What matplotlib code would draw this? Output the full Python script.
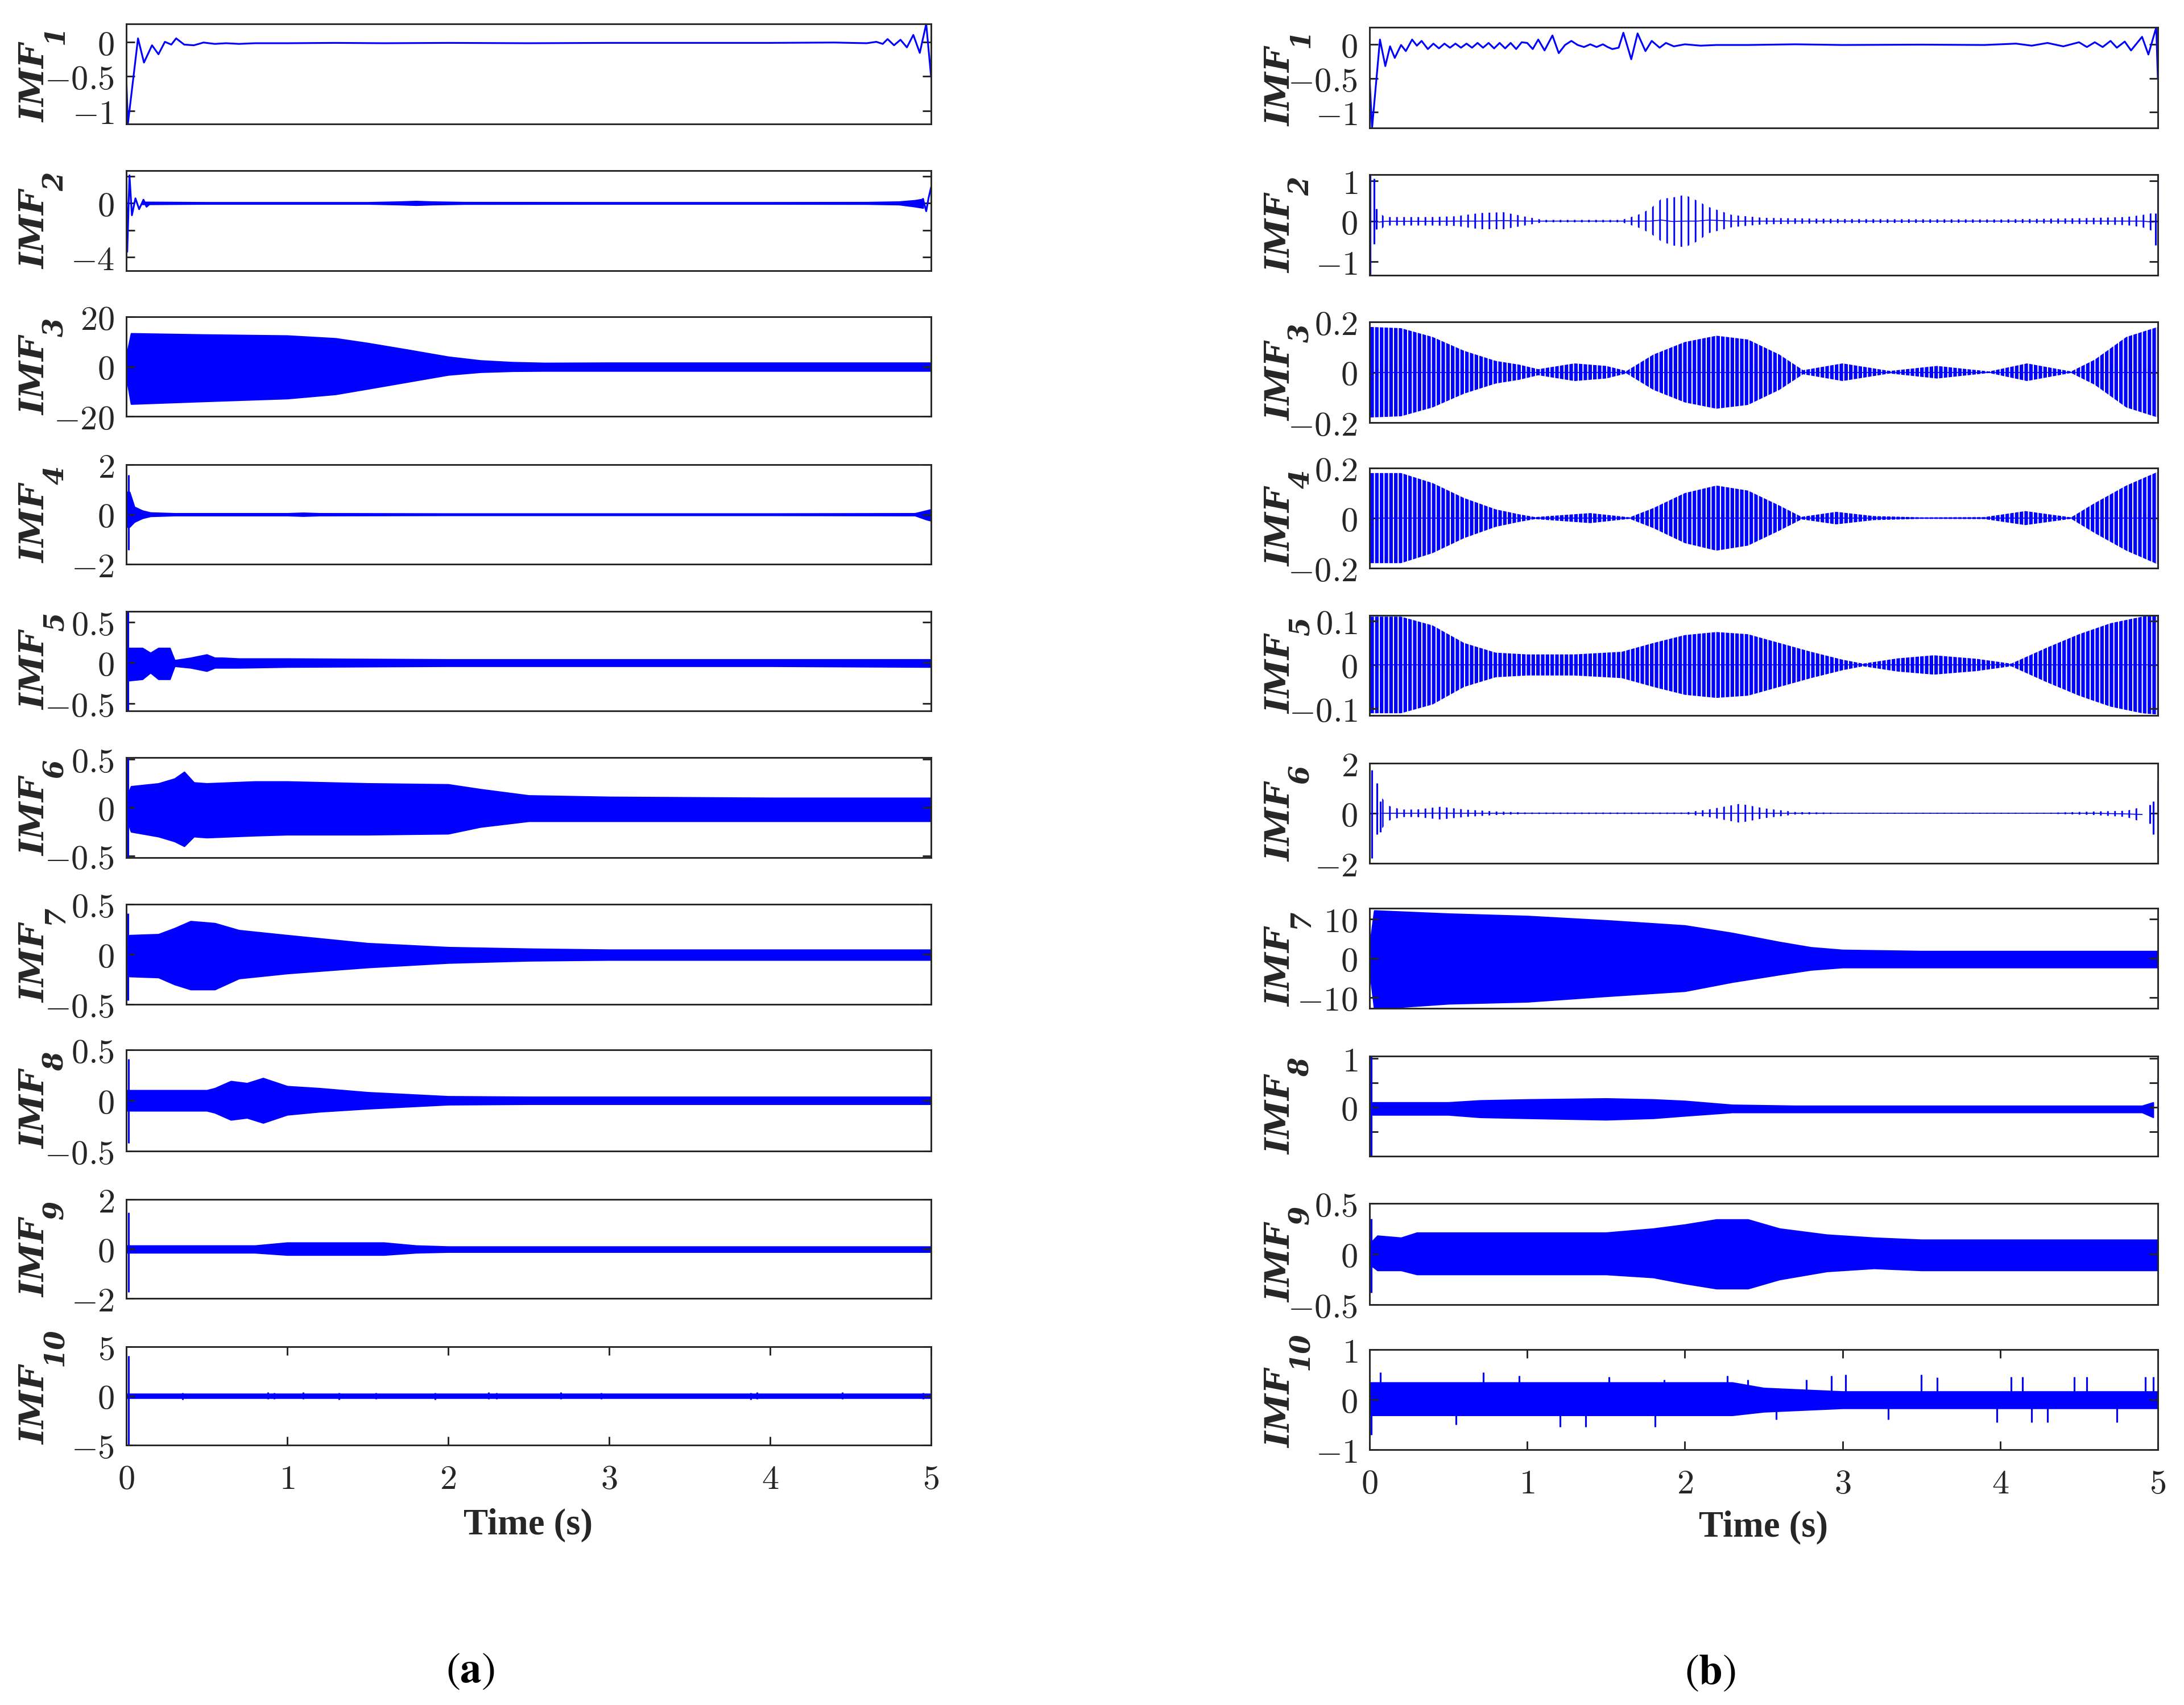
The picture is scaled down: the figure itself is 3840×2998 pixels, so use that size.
import numpy as np
import matplotlib
matplotlib.use("Agg")
import matplotlib.pyplot as plt

BLUE = "#0000ff"
INK = "#262626"

# ---------------- (a) left column ----------------
a1_t = [0.0, 0.01, 0.073, 0.11, 0.16, 0.2, 0.24, 0.28, 0.31, 0.36, 0.42, 0.48,
        0.55, 0.62, 0.7, 0.8, 1.0, 1.3, 1.6, 2.0, 2.5, 3.0, 3.5, 4.0,
        4.4, 4.6, 4.66, 4.7, 4.73, 4.77, 4.81, 4.85, 4.89, 4.93, 4.97, 5.0]
a1_y = [-0.5, -1.19, 0.05, -0.3, -0.05, -0.18, 0.0, -0.04, 0.05, -0.04, -0.05, -0.01,
        -0.03, -0.02, -0.03, -0.02, -0.02, -0.015, -0.02, -0.015, -0.02, -0.015, -0.015, -0.015,
        -0.01, -0.02, 0.0, -0.03, 0.04, -0.05, 0.03, -0.08, 0.1, -0.16, 0.26, -0.5]

a2_t = [0.1, 0.5, 1.5, 1.7, 1.8, 1.9, 2.1, 3.0, 4.0, 4.6, 4.8, 4.9, 4.95]
a2_hi = [0.08, 0.05, 0.05, 0.1, 0.14, 0.1, 0.06, 0.05, 0.05, 0.06, 0.1, 0.2, 0.3]
a2_lo = [-0.08, -0.05, -0.05, -0.1, -0.14, -0.1, -0.06, -0.05, -0.05, -0.06, -0.1, -0.25, -0.35]
a2_head_t = [0.0, 0.006, 0.02, 0.035, 0.057, 0.08, 0.107, 0.126, 0.15]
a2_head_y = [2.4, -3.6, 2.05, -0.9, 0.35, -0.45, 0.25, -0.27, 0.0]
a2_tail_t = [4.95, 4.97, 4.985, 5.0]
a2_tail_y = [0.3, -0.6, 0.4, 1.15]

a3_t = [0.0, 0.03, 0.5, 1.0, 1.3, 1.5, 1.75, 2.0, 2.2, 2.4, 2.6, 3.0, 4.0, 5.0]
a3_hi = [4.0, 13.3, 12.8, 12.4, 11.3, 9.4, 6.7, 3.9, 2.4, 1.7, 1.4, 1.5, 1.5, 1.5]
a3_lo = [-4.0, -15.0, -13.9, -12.8, -11.1, -8.9, -6.1, -3.3, -2.2, -1.8, -1.7, -1.7, -1.7, -1.7]

a4_t = [0.0, 0.02, 0.05, 0.1, 0.15, 0.3, 1.0, 1.1, 1.2, 2.0, 3.0, 4.0, 4.9, 4.97, 5.0]
a4_hi = [0.9, 0.9, 0.3, 0.15, 0.07, 0.04, 0.04, 0.06, 0.04, 0.03, 0.03, 0.03, 0.04, 0.15, 0.2]
a4_lo = [-0.5, -0.5, -0.3, -0.15, -0.07, -0.04, -0.04, -0.06, -0.04, -0.03, -0.03, -0.03, -0.04, -0.2, -0.25]
a4_spk = ([0.015], [-1.43], [1.6])

a5_t = [0.0, 0.1, 0.15, 0.2, 0.27, 0.3, 0.4, 0.5, 0.55, 0.6, 0.7, 1.0, 2.0, 3.0, 4.0, 5.0]
a5_hi = [0.18, 0.18, 0.12, 0.18, 0.18, 0.03, 0.06, 0.1, 0.06, 0.06, 0.05, 0.05, 0.04, 0.04, 0.04, 0.04]
a5_lo = [-0.22, -0.2, -0.12, -0.2, -0.2, -0.04, -0.06, -0.1, -0.06, -0.06, -0.06, -0.05, -0.04, -0.04, -0.04, -0.05]
a5_spk = ([0.01], [-0.59], [0.63])

a6_t = [0.0, 0.03, 0.2, 0.3, 0.36, 0.42, 0.5, 0.8, 1.0, 1.5, 2.0, 2.2, 2.5, 3.0, 4.0, 5.0]
a6_hi = [0.1, 0.22, 0.25, 0.3, 0.37, 0.26, 0.25, 0.27, 0.27, 0.25, 0.24, 0.19, 0.125, 0.11, 0.1, 0.1]
a6_lo = [-0.1, -0.25, -0.3, -0.35, -0.4, -0.3, -0.31, -0.29, -0.28, -0.28, -0.27, -0.2, -0.14, -0.14, -0.14, -0.14]
a6_spk = ([0.01], [-0.52], [0.52])

a7_t = [0.0, 0.02, 0.2, 0.3, 0.4, 0.55, 0.7, 1.0, 1.5, 2.0, 2.5, 3.0, 5.0]
a7_hi = [0.0, 0.19, 0.2, 0.26, 0.33, 0.31, 0.24, 0.19, 0.11, 0.07, 0.055, 0.045, 0.045]
a7_lo = [0.0, -0.22, -0.23, -0.3, -0.35, -0.35, -0.24, -0.19, -0.13, -0.085, -0.063, -0.055, -0.055]
a7_spk = ([0.01], [-0.46], [0.41])

a8_t = [0.0, 0.5, 0.55, 0.65, 0.75, 0.85, 1.0, 1.2, 1.5, 2.0, 2.5, 5.0]
a8_hi = [0.1, 0.1, 0.12, 0.19, 0.17, 0.22, 0.14, 0.12, 0.08, 0.04, 0.035, 0.035]
a8_lo = [-0.1, -0.1, -0.12, -0.19, -0.17, -0.22, -0.14, -0.11, -0.08, -0.04, -0.035, -0.035]
a8_spk = ([0.015], [-0.42], [0.41])

a9_t = [0.0, 0.8, 1.0, 1.6, 1.8, 2.0, 5.0]
a9_hi = [0.13, 0.13, 0.25, 0.25, 0.13, 0.09, 0.09]
a9_lo = [-0.15, -0.15, -0.24, -0.24, -0.15, -0.12, -0.12]
a9_spk = ([0.015], [-1.74], [1.47])

a10_t = [0.0, 5.0]
a10_hi = [0.2, 0.2]
a10_lo = [-0.2, -0.2]
a10_spk_t = [0.015, 0.35, 0.88, 0.92, 1.1, 1.32, 1.55, 1.92, 2.25, 2.3, 2.7, 2.95, 3.88, 3.92, 4.45, 4.95]
a10_spk_lo = [-4.96, -0.35, -0.3, -0.3, -0.3, -0.35, -0.3, -0.35, -0.3, -0.3, -0.3, -0.3, -0.35, -0.3, -0.3, -0.3]
a10_spk_hi = [4.1, 0.3, 0.35, 0.3, 0.4, 0.3, 0.3, 0.3, 0.35, 0.3, 0.35, 0.3, 0.3, 0.35, 0.35, 0.3]

# ---------------- (b) right column ----------------
b1_t = [0.0, 0.016, 0.066, 0.1, 0.13, 0.16, 0.2, 0.23, 0.27, 0.3, 0.33, 0.37,
        0.405, 0.44, 0.475, 0.51, 0.545, 0.58, 0.615, 0.65, 0.685, 0.72, 0.755, 0.79,
        0.825, 0.86, 0.895, 0.93, 0.965, 1.0, 1.035, 1.07, 1.11, 1.16, 1.2, 1.24,
        1.28, 1.32, 1.36, 1.4, 1.44, 1.48, 1.51, 1.54, 1.58, 1.61, 1.66, 1.70,
        1.75, 1.79, 1.84, 1.88, 1.93, 2.0, 2.1, 2.2, 2.4, 2.7, 3.0, 3.5,
        3.9, 4.1, 4.2, 4.3, 4.4, 4.5, 4.55, 4.6, 4.65, 4.7, 4.74, 4.79,
        4.83, 4.9, 4.94, 4.99, 5.0]
b1_y = [-0.5, -1.23, 0.07, -0.32, -0.03, -0.2, -0.01, -0.1, 0.07, -0.02, 0.05, -0.07,
        0.01, -0.06, 0.01, -0.05, 0.01, -0.05, 0.01, -0.05, 0.02, -0.05, 0.02, -0.06,
        0.02, -0.06, 0.02, -0.07, 0.03, 0.02, -0.07, 0.07, -0.09, 0.13, -0.13, -0.01,
        0.05, -0.01, -0.04, 0.0, -0.04, 0.0, -0.04, -0.07, -0.05, 0.17, -0.22, 0.16,
        -0.1, 0.05, -0.05, 0.02, -0.03, 0.0, -0.02, -0.01, -0.01, 0.0, -0.01, -0.005,
        -0.01, 0.01, -0.02, 0.02, -0.03, 0.03, -0.04, 0.03, -0.04, 0.05, -0.05, 0.04,
        -0.09, 0.11, -0.15, 0.25, -0.5]

b2_t = [0.06, 0.1, 0.4, 0.55, 0.7, 0.85, 1.0, 1.1, 1.6, 1.7, 1.78, 1.85,
        1.92, 2.0, 2.08, 2.15, 2.3, 2.5, 3.0, 4.0, 4.5, 4.8, 4.9, 4.97]
b2_hi = [0.2, 0.1, 0.1, 0.12, 0.2, 0.22, 0.1, 0.03, 0.03, 0.15, 0.3, 0.55,
         0.58, 0.65, 0.5, 0.35, 0.15, 0.08, 0.05, 0.04, 0.07, 0.1, 0.15, 0.2]
b2_lo = [-0.25, -0.11, -0.11, -0.12, -0.2, -0.2, -0.1, -0.03, -0.03, -0.15, -0.3, -0.5,
         -0.6, -0.65, -0.5, -0.3, -0.15, -0.08, -0.05, -0.04, -0.07, -0.1, -0.15, -0.25]
b2_spk = ([0.004, 0.03, 0.045, 4.985, 5.0], [-1.34, -0.57, -0.2, -0.6, -0.6], [1.15, 1.05, 0.3, 0.2, 1.15])

b3_t = [0.0, 0.2, 0.4, 0.6, 0.8, 0.95, 1.07, 1.3, 1.5, 1.63, 1.8, 2.0, 2.2,
        2.4, 2.6, 2.75, 3.0, 3.3, 3.6, 3.93, 4.17, 4.45, 4.6, 4.8, 5.0]
b3_amp = [0.18, 0.175, 0.14, 0.085, 0.045, 0.03, 0.012, 0.035, 0.025, 0.005, 0.07, 0.12, 0.145,
          0.13, 0.07, 0.008, 0.035, 0.005, 0.025, 0.003, 0.035, 0.003, 0.05, 0.14, 0.18]

b4_t = [0.0, 0.2, 0.4, 0.6, 0.8, 0.95, 1.05, 1.4, 1.65, 1.8, 2.0, 2.2,
        2.4, 2.6, 2.74, 2.96, 3.2, 3.5, 3.9, 4.16, 4.45, 4.6, 4.8, 5.0]
b4_amp = [0.18, 0.18, 0.14, 0.08, 0.035, 0.015, 0.004, 0.02, 0.003, 0.04, 0.1, 0.13,
          0.11, 0.05, 0.005, 0.025, 0.008, 0.003, 0.004, 0.028, 0.003, 0.06, 0.13, 0.185]

b5_t = [0.0, 0.2, 0.4, 0.6, 0.8, 1.0, 1.3, 1.6, 1.8, 2.0, 2.2, 2.4, 2.6,
        2.8, 3.0, 3.13, 3.35, 3.58, 3.85, 4.07, 4.3, 4.5, 4.7, 4.9, 5.0]
b5_amp = [0.11, 0.11, 0.09, 0.05, 0.028, 0.024, 0.024, 0.03, 0.05, 0.068, 0.075, 0.07, 0.05,
          0.03, 0.012, 0.003, 0.015, 0.022, 0.014, 0.003, 0.04, 0.07, 0.095, 0.11, 0.113]

b6_t = [0.08, 0.12, 0.2, 0.3, 0.45, 0.6, 0.8, 1.0, 2.0, 2.15, 2.35, 2.5, 2.7, 3.0, 4.3, 4.6, 4.8, 4.9]
b6_hi = [0.6, 0.3, 0.15, 0.15, 0.26, 0.15, 0.07, 0.03, 0.03, 0.15, 0.38, 0.2, 0.05, 0.02, 0.02, 0.07, 0.1, 0.25]
b6_lo = [-0.6, -0.3, -0.15, -0.15, -0.25, -0.15, -0.07, -0.03, -0.03, -0.15, -0.38, -0.2, -0.05, -0.02, -0.02, -0.07, -0.15, -0.35]
b6_spk = ([0.016, 0.047, 0.07, 4.95, 4.97, 5.0], [-1.8, -0.83, -0.76, -0.4, -0.83, -1.56], [1.72, 1.2, 0.48, 0.35, 0.48, 1.28])

b7_t = [0.0, 0.03, 0.5, 1.0, 1.5, 2.0, 2.3, 2.6, 2.8, 3.0, 3.5, 5.0]
b7_hi = [3.0, 12.1, 11.3, 10.7, 9.6, 8.3, 6.4, 4.1, 2.75, 2.1, 1.8, 1.8]
b7_lo = [-3.0, -12.8, -11.5, -11.0, -9.6, -8.3, -6.0, -4.1, -2.9, -2.3, -2.3, -2.3]

b8_t = [0.02, 0.5, 0.7, 1.0, 1.5, 1.8, 2.0, 2.3, 2.7, 4.9, 4.97]
b8_hi = [0.1, 0.1, 0.14, 0.16, 0.18, 0.16, 0.13, 0.05, 0.03, 0.03, 0.1]
b8_lo = [-0.15, -0.15, -0.2, -0.22, -0.25, -0.22, -0.17, -0.1, -0.1, -0.1, -0.2]
b8_spk = ([0.01, 5.0], [-1.0, -0.4], [1.05, 0.6])

b9_t = [0.0, 0.05, 0.2, 0.3, 1.5, 1.8, 2.0, 2.2, 2.4, 2.6, 2.9, 3.2, 3.5, 5.0]
b9_hi = [0.1, 0.18, 0.16, 0.21, 0.21, 0.25, 0.29, 0.34, 0.34, 0.25, 0.19, 0.16, 0.14, 0.14]
b9_lo = [-0.1, -0.16, -0.16, -0.2, -0.2, -0.23, -0.29, -0.34, -0.34, -0.25, -0.17, -0.14, -0.16, -0.16]
b9_spk = ([0.01], [-0.38], [0.35])

b10_t = [0.0, 2.3, 2.5, 3.0, 5.0]
b10_hi = [0.34, 0.34, 0.23, 0.16, 0.16]
b10_lo = [-0.31, -0.31, -0.24, -0.17, -0.17]
b10_spk_t = [0.01, 0.07, 0.55, 0.72, 0.95, 1.21, 1.37, 1.52, 1.81, 1.87, 2.27, 2.4, 2.58, 2.77, 2.93,
             3.02, 3.29, 3.5, 3.6, 3.98, 4.07, 4.14, 4.2, 4.3, 4.47, 4.55, 4.74, 4.92, 4.97]
b10_spk_y = [-0.7, 0.55, -0.5, 0.55, 0.48, -0.55, -0.55, 0.45, -0.55, 0.4, 0.48, 0.4, -0.4, 0.4, 0.48,
             0.5, -0.4, 0.5, 0.44, -0.45, 0.45, 0.45, -0.45, -0.45, 0.45, 0.45, -0.45, 0.45, 0.45]

# y axis settings per panel
a_ylim = [(-1.19, 0.26), (-5.0, 2.4), (-20, 20), (-2, 2), (-0.59, 0.63),
          (-0.52, 0.52), (-0.5, 0.5), (-0.5, 0.5), (-2, 2), (-5, 5)]
a_yticks = [[-1, -0.5, 0], [-4, -2, 0, 2], [-20, 0, 20], [-2, 0, 2], [-0.5, 0, 0.5],
            [-0.5, 0, 0.5], [-0.5, 0, 0.5], [-0.5, 0, 0.5], [-2, 0, 2], [-5, 0, 5]]
a_hide = [[], [-2, 2], [], [], [], [], [], [], [], []]
b_ylim = [(-1.23, 0.25), (-1.34, 1.15), (-0.2, 0.2), (-0.2, 0.2), (-0.115, 0.113),
          (-2, 2), (-12.7, 12.7), (-1.0, 1.05), (-0.5, 0.5), (-1, 1)]
b_yticks = [[-1, -0.5, 0], [-1, 0, 1], [-0.2, 0, 0.2], [-0.2, 0, 0.2], [-0.1, 0, 0.1],
            [-2, 0, 2], [-10, 0, 10], [-0.5, 0, 0.5, 1], [-0.5, 0, 0.5], [-1, 0, 1]]
b_hide = [[], [], [], [], [], [], [], [-0.5, 0.5], [], []]

xticks = [0, 1, 2, 3, 4, 5]


def neg(a):
    return [-v for v in a]


def spikes_from(t, y):
    return (t, [min(0.0, v) for v in y], [max(0.0, v) for v in y])


panels_a = [
    dict(lines=[(a1_t, a1_y)]),
    dict(env=(a2_t, a2_hi, a2_lo), style="solid", lines=[(a2_head_t, a2_head_y), (a2_tail_t, a2_tail_y)]),
    dict(env=(a3_t, a3_hi, a3_lo), style="solid"),
    dict(env=(a4_t, a4_hi, a4_lo), style="solid", spikes=a4_spk),
    dict(env=(a5_t, a5_hi, a5_lo), style="solid", spikes=a5_spk),
    dict(env=(a6_t, a6_hi, a6_lo), style="solid", spikes=a6_spk),
    dict(env=(a7_t, a7_hi, a7_lo), style="solid", spikes=a7_spk),
    dict(env=(a8_t, a8_hi, a8_lo), style="solid", spikes=a8_spk),
    dict(env=(a9_t, a9_hi, a9_lo), style="solid", spikes=a9_spk),
    dict(env=(a10_t, a10_hi, a10_lo), style="solid", spikes=(a10_spk_t, a10_spk_lo, a10_spk_hi)),
]
panels_b = [
    dict(lines=[(b1_t, b1_y)]),
    dict(env=(b2_t, b2_hi, b2_lo), style="hatch", hatch="||||", hlw=0.7, spikes=b2_spk),
    dict(env=(b3_t, b3_amp, neg(b3_amp)), style="hatch", hatch="||||||", hlw=1.5),
    dict(env=(b4_t, b4_amp, neg(b4_amp)), style="hatch", hatch="||||||", hlw=1.5),
    dict(env=(b5_t, b5_amp, neg(b5_amp)), style="hatch", hatch="||||||", hlw=1.5),
    dict(env=(b6_t, b6_hi, b6_lo), style="hatch", hatch="||||", hlw=0.7, spikes=b6_spk),
    dict(env=(b7_t, b7_hi, b7_lo), style="solid"),
    dict(env=(b8_t, b8_hi, b8_lo), style="solid", spikes=b8_spk),
    dict(env=(b9_t, b9_hi, b9_lo), style="solid", spikes=b9_spk),
    dict(env=(b10_t, b10_hi, b10_lo), style="solid", spikes=spikes_from(b10_spk_t, b10_spk_y)),
]

plt.rcParams["mathtext.fontset"] = "cm"
plt.rcParams["hatch.color"] = BLUE

W, H = 3840, 2998
fig = plt.figure(figsize=(W / 300, H / 300), dpi=300)

# pixel frames of the panels; lab_dx / sub_dx: label offsets from the axes' left edge
cols = [
    dict(x0=222, x1=1637, tops=[42, 300, 557, 817, 1075, 1332, 1590, 1846, 2109, 2368],
         bots=[218, 476, 732, 992, 1250, 1508, 1766, 2024, 2283, 2541], lab_dx=-160, sub_dx=-124,
         panels=panels_a, ylims=a_ylim, yticks=a_yticks, hide=a_hide),
    dict(x0=2408, x1=3794, tops=[48, 307, 566, 823, 1082, 1342, 1597, 1857, 2116, 2373],
         bots=[225, 484, 743, 999, 1258, 1518, 1773, 2033, 2294, 2549], lab_dx=-156, sub_dx=-120,
         panels=panels_b, ylims=b_ylim, yticks=b_yticks, hide=b_hide),
]
LABEL_FONT = dict(family="DejaVu Serif", style="italic", weight="bold")


def tick_text(v):
    return "$%s$" % ("%g" % v)


def draw_panel(ax, p):
    if "env" in p:
        t, hi, lo = p["env"]
        if p["style"] == "solid":
            ax.fill_between(t, lo, hi, facecolor=BLUE, edgecolor=BLUE, linewidth=0.6)
        else:
            with plt.rc_context({"hatch.linewidth": p["hlw"], "hatch.color": BLUE}):
                coll = ax.fill_between(t, lo, hi, facecolor="none", edgecolor=BLUE,
                                       linewidth=0, hatch=p["hatch"])
                if hasattr(coll, "set_hatch_linewidth"):
                    coll.set_hatch_linewidth(p["hlw"])
            mid = (np.asarray(hi) + np.asarray(lo)) / 2
            ax.plot(t, mid, color=BLUE, lw=0.4)
    for lt, ly in p.get("lines", []):
        ax.plot(lt, ly, color=BLUE, lw=0.75)
    if "spikes" in p:
        st, slo, shi = p["spikes"]
        ax.vlines(st, slo, shi, color=BLUE, lw=0.75)


for c in cols:
    for i in range(10):
        top, bot = c["tops"][i], c["bots"][i]
        ax = fig.add_axes([c["x0"] / W, 1 - bot / H, (c["x1"] - c["x0"]) / W, (bot - top) / H])
        draw_panel(ax, c["panels"][i])
        ax.set_xlim(0, 5)
        ax.set_ylim(*c["ylims"][i])
        ticks = c["yticks"][i]
        labels = ["" if v in c["hide"][i] else tick_text(v) for v in ticks]
        ax.set_yticks(ticks, labels)
        for s in ax.spines.values():
            s.set_color(INK)
            s.set_linewidth(0.7)
        ax.tick_params(axis="y", direction="in", left=True, right=True, length=3.6,
                       width=0.7, pad=5, labelsize=14.5, color=INK, labelcolor=INK)
        if i == 9:
            ax.set_xticks(xticks, [tick_text(v) for v in xticks])
            ax.tick_params(axis="x", direction="in", top=True, bottom=True, length=3.6,
                           width=0.7, pad=7.5, labelsize=14.5, color=INK, labelcolor=INK)
        else:
            ax.set_xticks([])

        # rotated "IMF" with its index as a lowered (rightward) subscript
        yc = (top + bot) / 2
        fig.text((c["x0"] + c["lab_dx"]) / W, 1 - (yc - 53) / H, "IMF", fontsize=14.5,
                 color=INK, rotation=90, rotation_mode="anchor", ha="right", va="center",
                 **LABEL_FONT)
        fig.text((c["x0"] + c["sub_dx"]) / W, 1 - (yc - 52) / H, str(i + 1), fontsize=11.5,
                 color=INK, rotation=90, rotation_mode="anchor", ha="left", va="center",
                 **LABEL_FONT)

fig.text(929 / W, 1 - 2682 / H, "Time (s)", fontfamily="Liberation Serif", fontweight="bold",
         fontsize=15.5, color=INK, ha="center", va="center")
fig.text(3101 / W, 1 - 2686 / H, "Time (s)", fontfamily="Liberation Serif", fontweight="bold",
         fontsize=15.5, color=INK, ha="center", va="center")
fig.text(827 / W, 1 - 2937 / H, r"$(\mathbf{a})$", math_fontfamily="stix", fontsize=18,
         ha="center", va="center")
fig.text(3007 / W, 1 - 2940 / H, r"$(\mathbf{b})$", math_fontfamily="stix", fontsize=18,
         ha="center", va="center")

fig.savefig("out.png", dpi=300, facecolor="white")
